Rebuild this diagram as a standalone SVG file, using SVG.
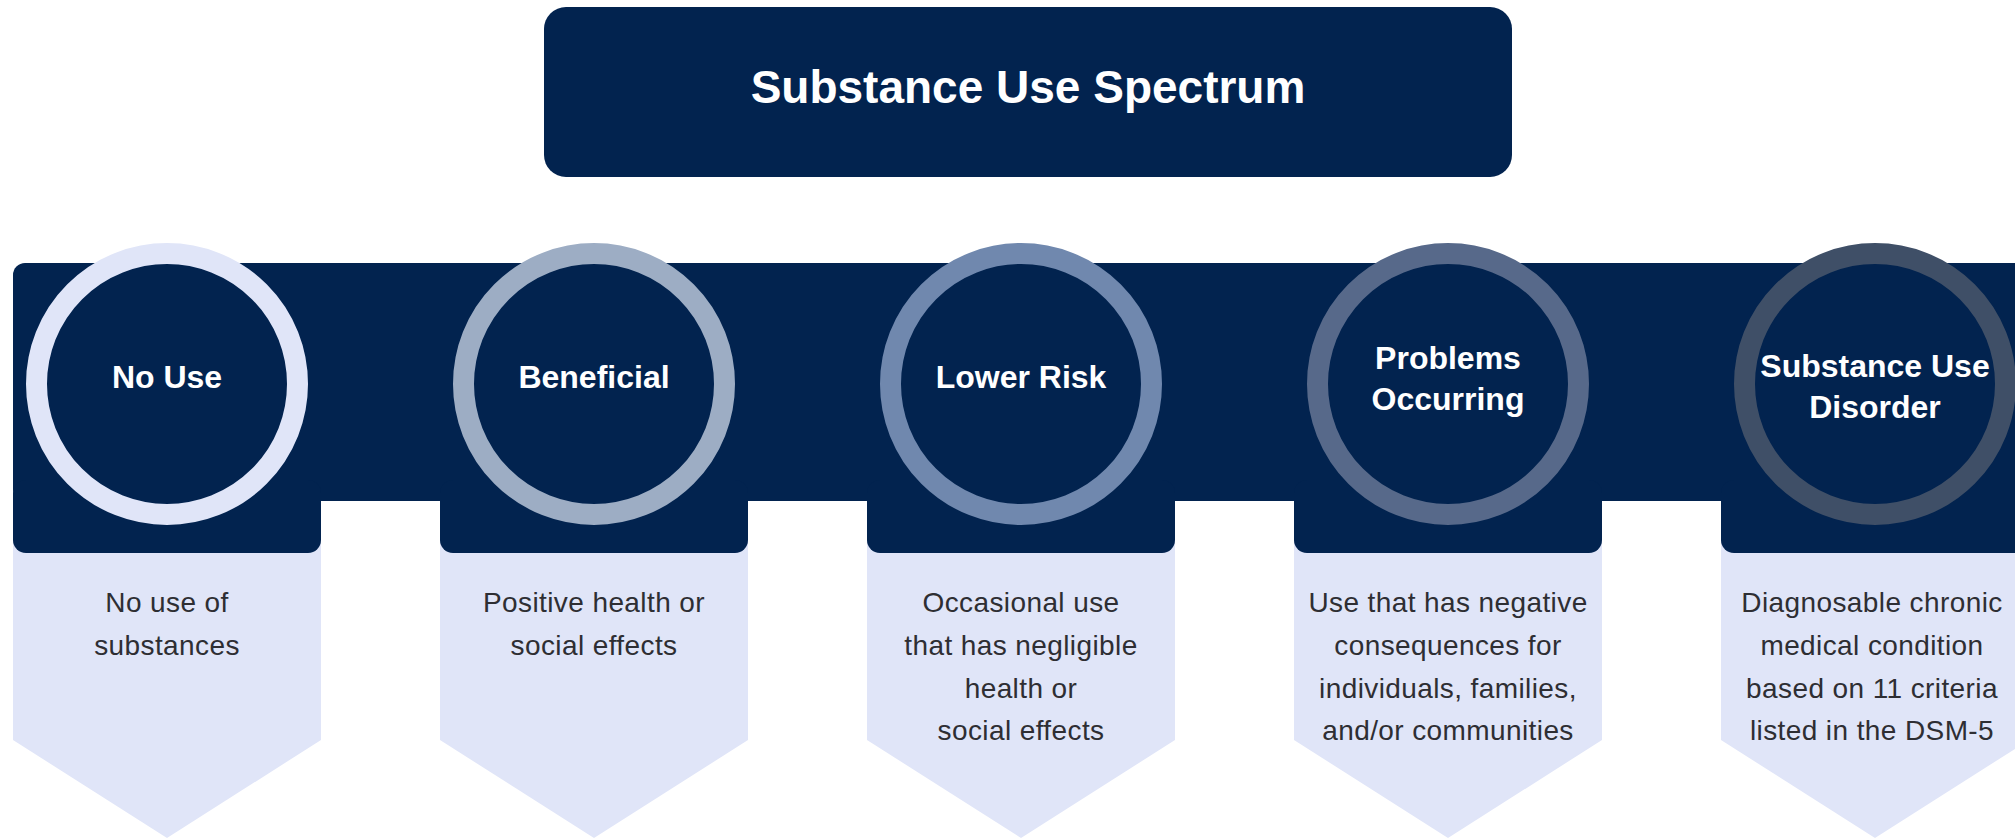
<svg xmlns="http://www.w3.org/2000/svg" width="2015" height="838" viewBox="0 0 2015 838">
<style>
.navy{fill:#02234F}
.lav{fill:#E0E5F8}
.ring{fill:#02234F;stroke-width:21}
.lbl{font-family:"Liberation Sans",Arial,sans-serif;font-weight:bold;font-size:32px;fill:#FFFFFF;text-anchor:middle}
.title{font-family:"Liberation Sans",Arial,sans-serif;font-weight:bold;font-size:46px;fill:#FFFFFF;text-anchor:middle}
.desc{font-family:"Liberation Sans",Arial,sans-serif;font-size:28px;letter-spacing:0.4px;fill:#2E2E33;text-anchor:middle}
</style>
<rect width="2015" height="838" fill="#FFFFFF"/>
<g id="title">
<rect x="544" y="7" width="968" height="170" rx="22" class="navy"/>
<text x="1028" y="103" class="title">Substance Use Spectrum</text>
</g>
<g id="band">
<rect x="13" y="263" width="2030" height="238" rx="12" class="navy"/>
</g>
<g id="connectors"></g>
<g id="node-no-use">
<polygon class="lav" points="13,520 321,520 321,740 167,838 13,740"/>
<rect x="13" y="480" width="308" height="73" rx="13" class="navy"/>
<circle cx="167" cy="384" r="130.5" class="ring" stroke="#E0E5F8"/>
<text x="167" y="388" class="lbl">No Use</text>
<text x="167" y="612" class="desc">No use of</text>
<text x="167" y="655" class="desc">substances</text>
</g>
<g id="node-beneficial">
<polygon class="lav" points="440,520 748,520 748,740 594,838 440,740"/>
<rect x="440" y="480" width="308" height="73" rx="13" class="navy"/>
<circle cx="594" cy="384" r="130.5" class="ring" stroke="#9DADC4"/>
<text x="594" y="388" class="lbl">Beneficial</text>
<text x="594" y="612" class="desc">Positive health or</text>
<text x="594" y="655" class="desc">social effects</text>
</g>
<g id="node-lower-risk">
<polygon class="lav" points="867,520 1175,520 1175,740 1021,838 867,740"/>
<rect x="867" y="480" width="308" height="73" rx="13" class="navy"/>
<circle cx="1021" cy="384" r="130.5" class="ring" stroke="#7088AE"/>
<text x="1021" y="388" class="lbl">Lower Risk</text>
<text x="1021" y="612" class="desc">Occasional use</text>
<text x="1021" y="655" class="desc">that has negligible</text>
<text x="1021" y="698" class="desc">health or</text>
<text x="1021" y="740" class="desc">social effects</text>
</g>
<g id="node-problems">
<polygon class="lav" points="1294,520 1602,520 1602,740 1448,838 1294,740"/>
<rect x="1294" y="480" width="308" height="73" rx="13" class="navy"/>
<circle cx="1448" cy="384" r="130.5" class="ring" stroke="#57698A"/>
<text x="1448" y="369" class="lbl">Problems</text>
<text x="1448" y="410" class="lbl">Occurring</text>
<text x="1448" y="612" class="desc">Use that has negative</text>
<text x="1448" y="655" class="desc">consequences for</text>
<text x="1448" y="698" class="desc">individuals, families,</text>
<text x="1448" y="740" class="desc">and/or communities</text>
</g>
<g id="node-sud">
<polygon class="lav" points="1721,520 2029,520 2029,740 1875,838 1721,740"/>
<rect x="1721" y="480" width="308" height="73" rx="13" class="navy"/>
<circle cx="1875" cy="384" r="130.5" class="ring" stroke="#3F4F67"/>
<text x="1875" y="377" class="lbl">Substance Use</text>
<text x="1875" y="418" class="lbl">Disorder</text>
<text x="1872" y="612" class="desc">Diagnosable chronic</text>
<text x="1872" y="655" class="desc">medical condition</text>
<text x="1872" y="698" class="desc">based on 11 criteria</text>
<text x="1872" y="740" class="desc">listed in the DSM-5</text>
</g>
</svg>
